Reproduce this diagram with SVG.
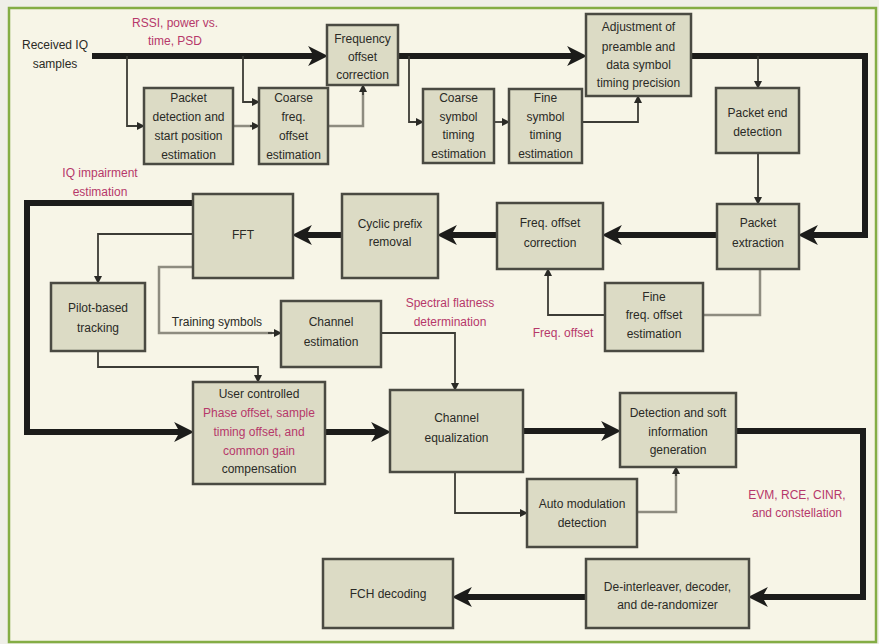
<svg xmlns="http://www.w3.org/2000/svg" width="879" height="644" viewBox="0 0 879 644">
<style>
  .frame{fill:#f7f5e7;stroke:#84ad45;stroke-width:2.5}
  .box{fill:#dcdbc5;stroke:#4a4a42;stroke-width:2.5}
  .t{font-family:"Liberation Sans",Arial,sans-serif;font-size:12px;fill:#2a2a26;text-anchor:middle}
  .m{font-family:"Liberation Sans",Arial,sans-serif;font-size:12px;fill:#b6386a;text-anchor:middle}
  .thick{fill:none;stroke:#1c1c1a;stroke-width:6;stroke-linejoin:miter}
  .thin{fill:none;stroke:#3c3c36;stroke-width:1.8}
  .gray{fill:none;stroke:#8e8c80;stroke-width:2.5}
</style>
<defs>
  <marker id="big" markerUnits="userSpaceOnUse" markerWidth="20" markerHeight="20" viewBox="0 0 18 18" refX="8" refY="9" orient="auto">
    <path d="M0,0 L18,9 L0,18 L5,9 Z" fill="#1c1c1a"/>
  </marker>
  <marker id="small" markerUnits="userSpaceOnUse" markerWidth="8" markerHeight="8" viewBox="0 0 8 8" refX="7" refY="4" orient="auto">
    <path d="M0,0 L8,4 L0,8 Z" fill="#2a2a26"/>
  </marker>
</defs>
<rect x="0" y="0" width="879" height="644" fill="#efefe8"/>
<rect class="frame" x="9" y="8" width="867" height="634"/>

<g id="connectors">
  <!-- thick main path -->
  <path class="thick" d="M92,56 H317" marker-end="url(#big)"/>
  <path class="thick" d="M398,56 H576" marker-end="url(#big)"/>
  <path class="thick" d="M691,56 H865 V235 H809" marker-end="url(#big)"/>
  <path class="thick" d="M717,235 H613" marker-end="url(#big)"/>
  <path class="thick" d="M497,235 H448" marker-end="url(#big)"/>
  <path class="thick" d="M342,235 H303" marker-end="url(#big)"/>
  <path class="thick" d="M193,203 H27 V432 H183" marker-end="url(#big)"/>
  <path class="thick" d="M325,432 H380" marker-end="url(#big)"/>
  <path class="thick" d="M523,431 H610" marker-end="url(#big)"/>
  <path class="thick" d="M736,431 H863 V597 H759" marker-end="url(#big)"/>
  <path class="thick" d="M586,597 H463" marker-end="url(#big)"/>
  <!-- thin -->
  <path class="thin" d="M127,56 V126 H144" marker-end="url(#small)"/>
  <path class="thin" d="M243,56 V102 H259" marker-end="url(#small)"/>
  <path class="gray" d="M233,126 H252"/>
  <path class="thin" d="M250,126 H259" marker-end="url(#small)"/>
  <path class="gray" d="M328,126 H363 V92"/>
  <path class="thin" d="M363,95 V85" marker-end="url(#small)"/>
  <path class="thin" d="M409,56 V122 H423" marker-end="url(#small)"/>
  <path class="thin" d="M494,122 H509" marker-end="url(#small)"/>
  <path class="thin" d="M582,122 H638 V96" marker-end="url(#small)"/>
  <path class="thin" d="M758,56 V88" marker-end="url(#small)"/>
  <path class="thin" d="M758,153 V204" marker-end="url(#small)"/>
  <path class="gray" d="M760,269 V315 H703"/>
  <path class="thin" d="M605,315 H548 V269" marker-end="url(#small)"/>
  <path class="thin" d="M193,234 H98 V283" marker-end="url(#small)"/>
  <path class="gray" d="M193,267 H159 V333 H272"/>
  <path class="thin" d="M268,333 H281" marker-end="url(#small)"/>
  <path class="thin" d="M381,333 H455 V390" marker-end="url(#small)"/>
  <path class="thin" d="M98,351 V367 H258 V382" marker-end="url(#small)"/>
  <path class="thin" d="M455,472 V513 H527" marker-end="url(#small)"/>
  <path class="gray" d="M637,512 H676 V474"/>
  <path class="thin" d="M676,476 V467" marker-end="url(#small)"/>
</g>

<g id="labels">
  <text class="t" x="55" y="49">Received IQ</text>
  <text class="t" x="55" y="68">samples</text>
  <text class="m" x="175" y="27">RSSI, power vs.</text>
  <text class="m" x="175" y="45">time, PSD</text>
  <text class="m" x="100" y="177">IQ impairment</text>
  <text class="m" x="100" y="196">estimation</text>
  <text class="t" x="217" y="326">Training symbols</text>
  <text class="m" x="450" y="307">Spectral flatness</text>
  <text class="m" x="450" y="326">determination</text>
  <text class="m" x="563" y="337">Freq. offset</text>
  <text class="m" x="797" y="499">EVM, RCE, CINR,</text>
  <text class="m" x="797" y="517">and constellation</text>
</g>

<g id="freq-offset-correction">
  <rect class="box" x="327" y="25" width="71" height="60"/>
  <text class="t" x="362.5" y="43">Frequency</text>
  <text class="t" x="362.5" y="61">offset</text>
  <text class="t" x="362.5" y="79">correction</text>
</g>
<g id="packet-detection">
  <rect class="box" x="144" y="88" width="89" height="76"/>
  <text class="t" x="188.5" y="102">Packet</text>
  <text class="t" x="188.5" y="121">detection and</text>
  <text class="t" x="188.5" y="140">start position</text>
  <text class="t" x="188.5" y="159">estimation</text>
</g>
<g id="coarse-freq">
  <rect class="box" x="259" y="88" width="69" height="76"/>
  <text class="t" x="293.5" y="102">Coarse</text>
  <text class="t" x="293.5" y="121">freq.</text>
  <text class="t" x="293.5" y="140">offset</text>
  <text class="t" x="293.5" y="159">estimation</text>
</g>
<g id="coarse-symbol">
  <rect class="box" x="423" y="89" width="71" height="74"/>
  <text class="t" x="458.5" y="102">Coarse</text>
  <text class="t" x="458.5" y="121">symbol</text>
  <text class="t" x="458.5" y="139">timing</text>
  <text class="t" x="458.5" y="158">estimation</text>
</g>
<g id="fine-symbol">
  <rect class="box" x="509" y="89" width="73" height="74"/>
  <text class="t" x="545.5" y="102">Fine</text>
  <text class="t" x="545.5" y="121">symbol</text>
  <text class="t" x="545.5" y="139">timing</text>
  <text class="t" x="545.5" y="158">estimation</text>
</g>
<g id="adjustment">
  <rect class="box" x="586" y="14" width="105" height="82"/>
  <text class="t" x="638.5" y="31">Adjustment of</text>
  <text class="t" x="638.5" y="51">preamble and</text>
  <text class="t" x="638.5" y="69">data symbol</text>
  <text class="t" x="638.5" y="87">timing precision</text>
</g>
<g id="packet-end">
  <rect class="box" x="716" y="88" width="83" height="65"/>
  <text class="t" x="757.5" y="117">Packet end</text>
  <text class="t" x="757.5" y="136">detection</text>
</g>
<g id="packet-extraction">
  <rect class="box" x="717" y="204" width="82" height="65"/>
  <text class="t" x="758" y="227">Packet</text>
  <text class="t" x="758" y="247">extraction</text>
</g>
<g id="freq-offset-corr2">
  <rect class="box" x="497" y="203" width="106" height="66"/>
  <text class="t" x="550" y="227">Freq. offset</text>
  <text class="t" x="550" y="247">correction</text>
</g>
<g id="fine-freq">
  <rect class="box" x="605" y="283" width="98" height="68"/>
  <text class="t" x="654" y="301">Fine</text>
  <text class="t" x="654" y="319">freq. offset</text>
  <text class="t" x="654" y="338">estimation</text>
</g>
<g id="cyclic-prefix">
  <rect class="box" x="342" y="194" width="96" height="84"/>
  <text class="t" x="390" y="228">Cyclic prefix</text>
  <text class="t" x="390" y="246">removal</text>
</g>
<g id="fft">
  <rect class="box" x="193" y="194" width="100" height="84"/>
  <text class="t" x="243" y="239">FFT</text>
</g>
<g id="pilot-tracking">
  <rect class="box" x="51" y="283" width="94" height="68"/>
  <text class="t" x="98" y="312">Pilot-based</text>
  <text class="t" x="98" y="332">tracking</text>
</g>
<g id="channel-estimation">
  <rect class="box" x="281" y="301" width="100" height="66"/>
  <text class="t" x="331" y="326">Channel</text>
  <text class="t" x="331" y="346">estimation</text>
</g>
<g id="user-controlled">
  <rect class="box" x="193" y="382" width="132" height="102"/>
  <text class="t" x="259" y="398">User controlled</text>
  <text class="m" x="259" y="417">Phase offset, sample</text>
  <text class="m" x="259" y="436">timing offset, and</text>
  <text class="m" x="259" y="455">common gain</text>
  <text class="t" x="259" y="473">compensation</text>
</g>
<g id="channel-equalization">
  <rect class="box" x="390" y="390" width="133" height="82"/>
  <text class="t" x="456.5" y="422">Channel</text>
  <text class="t" x="456.5" y="442">equalization</text>
</g>
<g id="detection-soft">
  <rect class="box" x="620" y="393" width="116" height="74"/>
  <text class="t" x="678" y="417">Detection and soft</text>
  <text class="t" x="678" y="436">information</text>
  <text class="t" x="678" y="454">generation</text>
</g>
<g id="auto-modulation">
  <rect class="box" x="527" y="479" width="110" height="68"/>
  <text class="t" x="582" y="508">Auto modulation</text>
  <text class="t" x="582" y="527">detection</text>
</g>
<g id="deinterleaver">
  <rect class="box" x="586" y="559" width="163" height="69"/>
  <text class="t" x="667.5" y="591">De-interleaver, decoder,</text>
  <text class="t" x="667.5" y="609">and de-randomizer</text>
</g>
<g id="fch-decoding">
  <rect class="box" x="323" y="559" width="130" height="69"/>
  <text class="t" x="388" y="598">FCH decoding</text>
</g>
</svg>
